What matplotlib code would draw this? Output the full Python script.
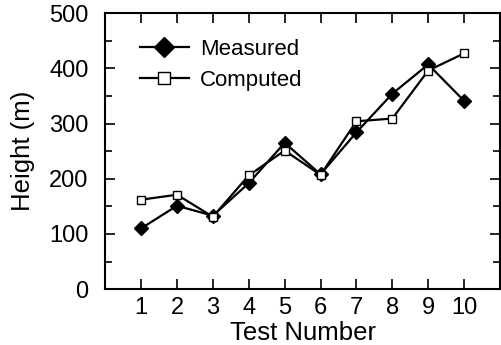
import numpy as np
import matplotlib
matplotlib.use("Agg")
import matplotlib.pyplot as plt
from matplotlib.ticker import MultipleLocator

plt.rcParams["font.family"] = ["Liberation Sans", "DejaVu Sans"]

# data
test_number = [1, 2, 3, 4, 5, 6, 7, 8, 9, 10]
measured = [110, 151, 133, 192, 265, 208, 284, 354, 407, 341]
computed = [162, 171, 131, 206, 251, 207, 304, 309, 396, 427]

fig = plt.figure(figsize=(5.01, 3.45), dpi=100)
ax = fig.add_axes([0.21, 0.162, 0.788, 0.800])

ax.plot(test_number, measured, color="black", lw=1.6, marker="D",
        ms=7, mfc="black", mec="black", label="Measured")
ax.plot(test_number, computed, color="black", lw=1.6, marker="s",
        ms=5.5, mfc="white", mec="black", mew=1.0, label="Computed")

ax.set_xlim(0, 11)
ax.set_ylim(0, 500)
ax.set_xticks(test_number)
ax.yaxis.set_major_locator(MultipleLocator(100))
ax.yaxis.set_minor_locator(MultipleLocator(50))
ax.tick_params(which="both", direction="in", top=True, right=True,
               labelsize=17, width=1.2)
ax.tick_params(which="major", length=7.5, pad=6)
ax.tick_params(axis="y", which="major", pad=12)
ax.tick_params(which="minor", length=5)
for s in ax.spines.values():
    s.set_linewidth(1.5)

ax.set_xlabel("Test Number", fontsize=18.5, labelpad=1)
ax.set_ylabel("Height (m)", fontsize=18.5, labelpad=10)

ax.legend(loc="upper left", frameon=False, fontsize=16, handlelength=2.2,
          bbox_to_anchor=(0.065, 0.94), borderaxespad=0, handletextpad=0.5,
          labelspacing=0.45, markerscale=1.5)

fig.savefig("out.png", dpi=100)
